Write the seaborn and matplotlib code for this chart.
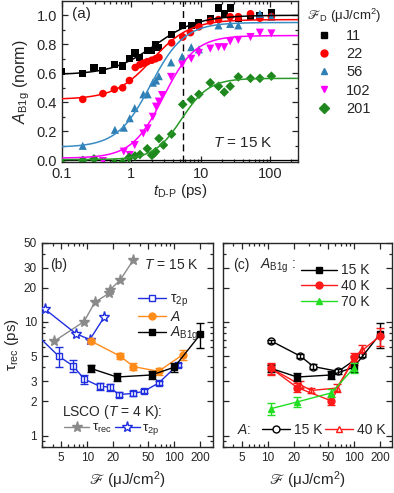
import numpy as np
import seaborn as sns
import matplotlib.pyplot as plt
from matplotlib.lines import Line2D
from matplotlib.ticker import FixedLocator, FixedFormatter, LogLocator, NullFormatter, MultipleLocator

# ---------------- panel (a) data: A_B1g(t) for several fluences ----------------
fluence_a = ['11', '22', '56', '102', '201']

t_f11 = [0.1, 0.2, 0.29, 0.39, 0.57, 0.75, 0.93, 1.13, 1.33, 1.7, 1.95, 2.23, 2.5, 3.8, 5.4,
         7.3, 9.4, 13.7, 18, 21.8, 26.5, 34.7, 52, 71, 104]
a_f11 = [0.61, 0.60, 0.64, 0.62, 0.66, 0.65, 0.70, 0.74, 0.71, 0.76, 0.76, 0.80, 0.78, 0.87, 0.93,
         0.93, 0.95, 0.98, 1.05, 1.01, 1.05, 0.98, 0.99, 1.00, 1.02]
t_f22 = [0.2, 0.39, 0.57, 0.75, 0.94, 1.14, 1.33, 1.5, 1.7, 1.97, 2.24, 2.5, 3.8, 5.5, 7.1,
         9.4, 13.7, 18, 26.5, 34.7, 52, 71, 104]
a_f22 = [0.42, 0.46, 0.49, 0.50, 0.55, 0.64, 0.66, 0.67, 0.68, 0.69, 0.70, 0.71, 0.81, 0.85, 0.88,
         0.92, 0.96, 0.97, 0.99, 0.99, 1.01, 0.98, 0.99]
t_f56 = [0.2, 0.58, 0.78, 0.95, 1.12, 1.49, 1.72, 2.04, 2.27, 2.49, 3.74, 5.4, 7.3, 9.4, 18,
         26.5, 34.7, 71, 104]
a_f56 = [0.10, 0.21, 0.225, 0.29, 0.36, 0.455, 0.455, 0.535, 0.55, 0.58, 0.675, 0.715, 0.78, 0.765, 0.93,
         0.94, 0.93, 1.01, 0.99]
t_f102 = [0.2, 0.39, 0.78, 0.95, 1.12, 1.49, 1.72, 2.04, 2.27, 2.49, 2.77, 3.74, 5.4, 7.3, 9.4,
          13.7, 18, 21.8, 26.5, 34.7, 52, 71, 104]
a_f102 = [-0.005, -0.005, 0.06, 0.037, 0.105, 0.185, 0.22, 0.30, 0.37, 0.405, 0.45, 0.575, 0.66, 0.70, 0.74,
          0.77, 0.78, 0.78, 0.82, 0.83, 0.85, 0.88, 0.875]
t_f201 = [0.1, 0.2, 0.29, 0.57, 0.75, 0.93, 1.13, 1.33, 1.7, 1.97, 2.1, 2.24, 2.5, 2.9, 3.8,
          5.5, 7.3, 9.4, 13.7, 18, 21.8, 26.5, 34.7, 52, 71, 104]
a_f201 = [-0.02, 0.0, 0.01, -0.02, -0.015, 0.02, 0.03, 0.04, 0.08, 0.035, 0.045, 0.06, 0.15, 0.105, 0.18,
          0.385, 0.42, 0.455, 0.535, 0.51, 0.47, 0.51, 0.575, 0.565, 0.565, 0.58]

# sigmoid fit parameters (in log t)
fit_low = [0.59, 0.42, 0.09, 0.015, 0.005]
fit_high = [1.0, 0.97, 0.95, 0.86, 0.565]
fit_t0 = [2.2, 2.0, 1.9, 2.9, 5.3]
fit_p = [1.4, 1.6, 1.8, 1.9, 2.2]
t_dashed = 5.5

# ---------------- panel (b) data ----------------
tau2p_F = [2.5, 4.7, 6.9, 9.2, 13.9, 18.4, 22.9, 33.5, 44.5, 66, 110]
tau2p = [8.0, 5.0, 4.1, 3.15, 2.72, 2.67, 2.3, 2.35, 2.45, 2.9, 4.2]
tau2p_err = [0, 1.0, 0.5, 0.3, 0.2, 0.2, 0.1, 0.1, 0.1, 0.1, 0.2]

A15_F = [11, 24, 34, 66, 125]
A15 = [6.8, 5.0, 4.05, 3.68, 5.15]
A15_err = [0.3, 0.3, 0.3, 0.25, 0.5]

B1g15_F = [11, 22, 55, 100, 200]
B1g15 = [3.9, 3.28, 3.42, 4.0, 7.8]
B1g15_err = [0.3, 0.25, 0.3, 0.4, 1.9]

lsco_rec_F = [4.2, 9.2, 12.2, 17.8, 18.3, 24, 34]
lsco_rec = [6.8, 10.1, 14.9, 17.9, 19.2, 23.5, 35.3]
lsco_2p_F = [3.25, 7.4, 10.7, 15.6]
lsco_2p = [13.0, 7.9, 7.0, 11.0]

# ---------------- panel (c) data ----------------
B1g40_F = [11, 22, 55, 100, 200]
B1g40 = [3.9, 2.65, 2.02, 4.9, 7.5]
B1g40_err = [0.5, 0.25, 0.15, 0.4, 1.3]
B1g70_F = [11, 22, 55, 100]
B1g70 = [1.73, 1.98, 2.38, 3.95]
B1g70_err = [0.2, 0.2, 0.2, 0.4]
A40_F = [11, 24, 32, 63, 100, 125]
A40 = [3.9, 2.8, 2.5, 2.62, 4.6, 5.8]
A40_err = [0.4, 0.2, 0.15, 0.2, 0.4, 0.5]

sns.set_style('ticks')
plt.rcParams['font.family'] = ['Liberation Sans', 'DejaVu Sans']
plt.rcParams['mathtext.fontset'] = 'custom'
plt.rcParams['mathtext.rm'] = 'Liberation Sans'
plt.rcParams['mathtext.it'] = 'Liberation Sans:italic'
plt.rcParams['mathtext.bf'] = 'Liberation Sans:bold'
plt.rcParams['mathtext.fallback'] = 'stix'
plt.rcParams['xtick.direction'] = 'in'
plt.rcParams['ytick.direction'] = 'in'
plt.rcParams['xtick.top'] = True
plt.rcParams['ytick.right'] = True
plt.rcParams['axes.linewidth'] = 1.0

TICK_A = 10.5
TICK_BC = 8.5
TXT_BC = 10
LAB_FS = 11
FSCR = r'$\mathrm{ℱ}$'

fig = plt.figure(figsize=(3.94, 4.93), dpi=100)

# ====================== (a) ======================
ax_a = fig.add_axes([0.157, 0.671, 0.599, 0.326])
t_pts = [t_f11, t_f22, t_f56, t_f102, t_f201]
a_pts = [a_f11, a_f22, a_f56, a_f102, a_f201]
mark_cols = ['black', '#ff0000', '#2f7fb5', '#ff00ff', '#1e881e']
line_cols = ['black', '#ff0000', '#3a8cc4', '#ff00ff', '#2a9a2a']
marks = ['s', 'o', '^', 'v', 'D']
sizes = [26, 30, 34, 34, 24]
t_fit = np.logspace(-1, np.log10(250), 300)

ax_a.set_xscale('log')
handles_a = []
for i in range(5):
    sns.scatterplot(x=t_pts[i], y=a_pts[i], ax=ax_a, color=mark_cols[i], marker=marks[i],
                    s=sizes[i], edgecolor='none', linewidth=0, zorder=3)
    y_fit = fit_low[i] + (fit_high[i] - fit_low[i]) / (1 + (fit_t0[i] / t_fit) ** fit_p[i])
    sns.lineplot(x=t_fit, y=y_fit, ax=ax_a, color=line_cols[i], lw=1.1, zorder=4)
    handles_a.append(Line2D([], [], ls='none', marker=marks[i], color=mark_cols[i],
                            markersize=5, label=fluence_a[i]))

ax_a.axvline(t_dashed, color='black', lw=1.0, ls=(0, (5, 3)), zorder=2)
ax_a.axhline(0, color='black', lw=0.9, zorder=2)
ax_a.set_xlim(0.1, 250)
ax_a.set_ylim(-0.013, 1.095)
ax_a.xaxis.set_major_locator(FixedLocator([0.1, 1, 10, 100]))
ax_a.xaxis.set_major_formatter(FixedFormatter(['0.1', '1', '10', '100']))
ax_a.xaxis.set_minor_locator(LogLocator(base=10, subs=np.arange(2, 10)))
ax_a.xaxis.set_minor_formatter(NullFormatter())
ax_a.yaxis.set_major_locator(MultipleLocator(0.2))
ax_a.yaxis.set_major_formatter(plt.FormatStrFormatter('%.1f'))
ax_a.yaxis.set_minor_locator(MultipleLocator(0.1))
ax_a.tick_params(which='both', labelsize=TICK_A, width=0.9)
ax_a.tick_params(which='major', length=4)
ax_a.tick_params(which='minor', length=2.2)
ax_a.set_xlabel(r'$t_{\mathrm{D\text{-}P}}$ (ps)', fontsize=LAB_FS, labelpad=1)
ax_a.set_ylabel(r'$A_{\mathrm{B1g}}$ (norm)', fontsize=LAB_FS + 0.5, labelpad=3)
ax_a.text(0.042, 0.92, '(a)', transform=ax_a.transAxes, fontsize=LAB_FS, va='center', ha='left')
ax_a.text(0.895, 0.118, r'$T$ = 15 K', transform=ax_a.transAxes, fontsize=LAB_FS, va='center', ha='right')
ax_a.legend(handles=handles_a, loc='upper left', bbox_to_anchor=(1.0, 1.02), frameon=False,
            title=FSCR + r'$_{\mathrm{D}}$ (μJ/cm$^2$)', title_fontsize=9.5, fontsize=10.5,
            handlelength=1.0, handletextpad=1.0, labelspacing=0.28, borderaxespad=0.2)


def setup_log(ax, left_labels=True):
    ax.set_xscale('log')
    ax.set_yscale('log')
    ax.set_xlim(3, 280)
    ax.set_ylim(0.8, 50)
    ax.xaxis.set_major_locator(FixedLocator([5, 10, 20, 50, 100, 200]))
    ax.xaxis.set_major_formatter(FixedFormatter(['5', '10', '20', '50', '100', '200']))
    ax.xaxis.set_minor_locator(LogLocator(base=10, subs=np.arange(1, 10)))
    ax.xaxis.set_minor_formatter(NullFormatter())
    ax.yaxis.set_major_locator(FixedLocator([1, 2, 3, 5, 10, 20, 30, 50]))
    ax.yaxis.set_major_formatter(FixedFormatter(['1', '2', '3', '5', '10', '20', '30', '50']))
    ax.yaxis.set_minor_locator(LogLocator(base=10, subs=np.arange(1, 10)))
    ax.yaxis.set_minor_formatter(NullFormatter())
    ax.tick_params(which='both', labelsize=TICK_BC, width=0.9)
    ax.tick_params(which='major', length=4)
    ax.tick_params(which='minor', length=2.2)
    if not left_labels:
        ax.tick_params(labelleft=False)
    ax.set_xlabel(FSCR + ' (μJ/cm$^2$)', fontsize=LAB_FS, labelpad=4)


def series(ax, x, y, err, color, marker, mfc, ms=5, lw=1.0, z=3):
    sns.lineplot(x=x, y=y, ax=ax, color=color, lw=lw, marker=marker, markersize=ms,
                 markerfacecolor=mfc, markeredgecolor=color, markeredgewidth=1.0,
                 estimator=None, sort=False, zorder=z)
    if err is not None:
        ax.errorbar(x, y, yerr=err, fmt='none', ecolor=color, elinewidth=1.0,
                    capsize=2.6, capthick=1.0, zorder=z)


BLUE = '#1f2fe0'
ORANGE = '#ff8c1a'
GRAY = '#8a8a8a'
RED = '#ff1a1a'
GREEN = '#22dd22'

# ====================== (b) ======================
ax_b = fig.add_axes([0.106, 0.094, 0.435, 0.414])
series(ax_b, lsco_rec_F, lsco_rec, None, GRAY, '*', GRAY, ms=8)
series(ax_b, lsco_2p_F, lsco_2p, None, BLUE, '*', 'white', ms=8)
series(ax_b, tau2p_F, tau2p, tau2p_err, BLUE, 's', 'white')
series(ax_b, A15_F, A15, A15_err, ORANGE, 'o', ORANGE)
series(ax_b, B1g15_F, B1g15, B1g15_err, 'black', 's', 'black')
setup_log(ax_b)
ax_b.set_ylabel(r'$\mathrm{\tau}_{\mathrm{rec}}$ (ps)', fontsize=LAB_FS, labelpad=2)
ax_b.text(0.048, 0.89, '(b)', transform=ax_b.transAxes, fontsize=TXT_BC, va='center', ha='left')
ax_b.text(0.915, 0.89, r'$T$ = 15 K', transform=ax_b.transAxes, fontsize=TXT_BC,
          va='center', ha='right')
hb = [Line2D([], [], color=BLUE, marker='s', mfc='white', mec=BLUE, ms=5, lw=1.0,
             label=r'$\mathrm{\tau}_{\mathrm{2p}}$'),
      Line2D([], [], color=ORANGE, marker='o', mfc=ORANGE, ms=5, lw=1.0, label=r'$A$'),
      Line2D([], [], color='black', marker='s', mfc='black', ms=5, lw=1.0, label=r'$A_{\mathrm{B1g}}$')]
leg_b = ax_b.legend(handles=hb, loc='upper left', bbox_to_anchor=(0.53, 0.785), frameon=False,
                    fontsize=TXT_BC, handlelength=2.0, handletextpad=0.3, labelspacing=0.05,
                    borderaxespad=0)
ax_b.add_artist(leg_b)
ax_b.text(0.118, 0.168, r'LSCO ($T$ = 4 K):', transform=ax_b.transAxes, fontsize=TXT_BC,
          va='center', ha='left')
hl = [Line2D([], [], color=GRAY, marker='*', mfc=GRAY, mec=GRAY, ms=8, lw=1.0,
             label=r'$\mathrm{\tau}_{\mathrm{rec}}$'),
      Line2D([], [], color=BLUE, marker='*', mfc='white', mec=BLUE, ms=8, lw=1.0,
             label=r'$\mathrm{\tau}_{\mathrm{2p}}$')]
ax_b.legend(handles=hl, loc='center left', bbox_to_anchor=(0.1, 0.083), frameon=False, ncol=2,
            fontsize=TXT_BC - 0.5, handlelength=1.9, handletextpad=0.2, columnspacing=0.2,
            borderaxespad=0)

# ====================== (c) ======================
ax_c = fig.add_axes([0.565, 0.094, 0.431, 0.414])
series(ax_c, A15_F, A15, [0.2] * len(A15_F), 'black', 'o', 'white')
series(ax_c, A40_F, A40, A40_err, RED, '^', 'white')
series(ax_c, B1g15_F, B1g15, B1g15_err, 'black', 's', 'black')
series(ax_c, B1g40_F, B1g40, B1g40_err, RED, 'o', RED)
series(ax_c, B1g70_F, B1g70, B1g70_err, GREEN, '^', GREEN)
setup_log(ax_c, left_labels=False)
ax_c.text(0.06, 0.89, '(c)', transform=ax_c.transAxes, fontsize=TXT_BC, va='center', ha='left')
ax_c.text(0.22, 0.885, r'$A_{\mathrm{B1g}}$ :', transform=ax_c.transAxes, fontsize=TXT_BC,
          va='center', ha='left')
hc = [Line2D([], [], color='black', marker='s', mfc='black', ms=5, lw=1.0, label='15 K'),
      Line2D([], [], color=RED, marker='o', mfc=RED, mec=RED, ms=5, lw=1.0, label='40 K'),
      Line2D([], [], color=GREEN, marker='^', mfc=GREEN, mec=GREEN, ms=5, lw=1.0, label='70 K')]
leg_c = ax_c.legend(handles=hc, loc='upper left', bbox_to_anchor=(0.43, 0.925), frameon=False,
                    fontsize=TXT_BC, handlelength=2.6, handletextpad=0.3, labelspacing=0.12,
                    borderaxespad=0)
ax_c.add_artist(leg_c)
ax_c.text(0.084, 0.082, r'$A$:', transform=ax_c.transAxes, fontsize=TXT_BC, va='center', ha='left')
ha = [Line2D([], [], color='black', marker='o', mfc='white', mec='black', ms=5, lw=1.0, label='15 K'),
      Line2D([], [], color=RED, marker='^', mfc='white', mec=RED, ms=5, lw=1.0, label='40 K')]
ax_c.legend(handles=ha, loc='center left', bbox_to_anchor=(0.2, 0.082), frameon=False, ncol=2,
            fontsize=TXT_BC, handlelength=2.0, handletextpad=0.3, columnspacing=0.2, borderaxespad=0)

fig.savefig('out.png', dpi=100)
